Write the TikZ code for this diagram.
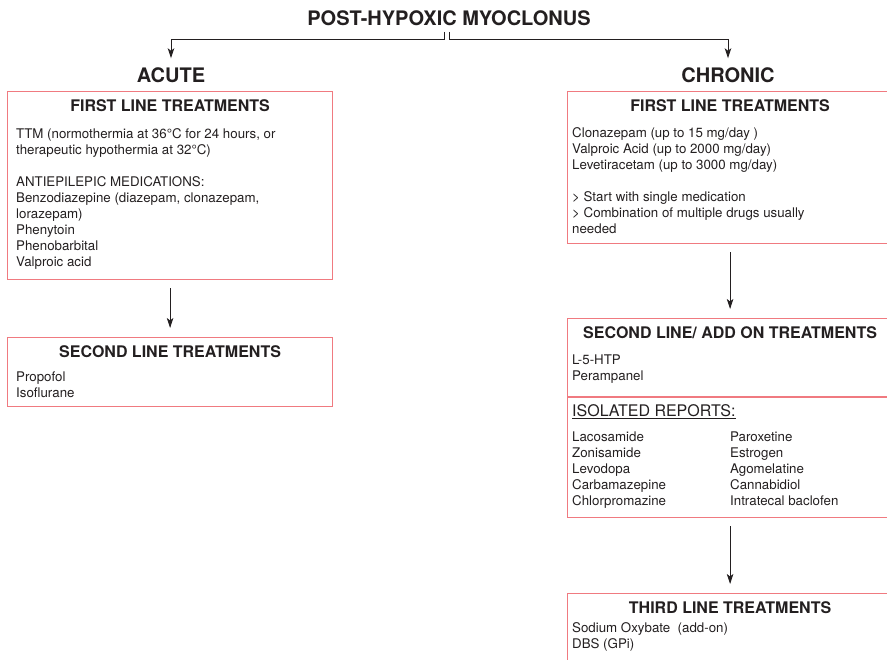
\documentclass[tikz,border=0pt]{standalone}
\usepackage{fontspec}
\setmainfont{TeX Gyre Heros}
\usetikzlibrary{arrows.meta}
\definecolor{boxred}{RGB}{240,122,128}
\definecolor{ink}{RGB}{35,31,32}

\begin{document}
\begin{tikzpicture}[x=1pt,y=1pt,
  every node/.style={inner sep=0pt,text=ink},
  tbox/.style={draw=boxred,line width=1.2pt,minimum width=325pt,anchor=north west},
  head/.style={font=\fontsize{16}{19}\selectfont\bfseries},
  group/.style={font=\fontsize{20}{24}\selectfont\bfseries},
  body/.style={font=\fontsize{13.3}{16}\selectfont,align=left,anchor=north west},
  arr/.style={draw=ink,line width=0.9pt,-{Stealth[length=10pt,width=6.5pt,inset=2.5pt]}},
  down/.style={arr,shorten <=8pt,shorten >=9pt}]
\clip (0,0) rectangle (887,-660);
\node[group] (title) at (449,-18.5) {POST-HYPOXIC MYOCLONUS};
\node[group] (acute) at (171,-75) {ACUTE};
\node[group] (chronic) at (728,-75) {CHRONIC};
\coordinate (stemL) at (444,-32);
\coordinate (stemR) at (449,-32);
\draw[arr] (stemL) -- ++(0,-7) -| ([yshift=9pt]acute.north);
\draw[arr] (stemR) -- ++(0,-7) -| ([yshift=9pt]chronic.north);

\node[tbox,minimum height=188pt] (acute1) at (7,-91) {};
\node[head] (acute1head) at ([yshift=-14.5pt]acute1.north) {FIRST LINE TREATMENTS};
\node[body] (acute1text) at ([xshift=9pt,yshift=-37pt]acute1.north west)
  {TTM (normothermia at 36°C for 24 hours, or\\therapeutic hypothermia at 32°C)\\[16pt]
   ANTIEPILEPIC MEDICATIONS:\\Benzodiazepine (diazepam, clonazepam,\\lorazepam)\\Phenytoin\\Phenobarbital\\Valproic acid};

\node[tbox,minimum height=69pt] (acute2) at (7,-337) {};
\node[head] (acute2head) at ([yshift=-14.5pt]acute2.north) {SECOND LINE TREATMENTS};
\node[body] (acute2text) at ([xshift=9pt,yshift=-35pt]acute2.north west) {Propofol\\Isoflurane};
\draw[down] (acute1.south) -- (acute2.north);

\node[tbox,minimum height=152pt] (chron1) at (567,-91) {};
\node[head] (chron1head) at ([yshift=-14.5pt]chron1.north) {FIRST LINE TREATMENTS};
\node[body] (chron1text) at ([xshift=5pt,yshift=-36pt]chron1.north west)
  {Clonazepam (up to 15 mg/day )\\Valproic Acid (up to 2000 mg/day)\\Levetiracetam (up to 3000 mg/day)\\[16pt]
   > Start with single medication\\> Combination of multiple drugs usually\\needed};

\node[tbox,minimum height=199pt] (chron2) at (567,-318) {};
\node[head] (chron2head) at ([yshift=-14.5pt]chron2.north) {SECOND LINE/ ADD ON TREATMENTS};
\node[body] (chron2text) at ([xshift=5pt,yshift=-37pt]chron2.north west) {L-5-HTP\\Perampanel};
\draw[draw=boxred,line width=1.2pt] ([yshift=-79pt]chron2.north west) -- ([yshift=-79pt]chron2.north east);
\node[body,font=\fontsize{16}{19}\selectfont] (isolated) at ([xshift=5pt,yshift=-86pt]chron2.north west) {\underline{ISOLATED REPORTS:}};
\node[body] (isolist1) at ([xshift=5pt,yshift=-114pt]chron2.north west)
  {Lacosamide\\Zonisamide\\Levodopa\\Carbamazepine\\Chlorpromazine};
\node[body] (isolist2) at ([xshift=163pt,yshift=-114pt]chron2.north west)
  {Paroxetine\\Estrogen\\Agomelatine\\Cannabidiol\\Intratecal baclofen};
\draw[down] (chron1.south) -- (chron2.north);

\node[tbox,minimum height=90pt] (chron3) at (567,-593) {};
\node[head] (chron3head) at ([yshift=-15pt]chron3.north) {THIRD LINE TREATMENTS};
\node[body] (chron3text) at ([xshift=5pt,yshift=-29pt]chron3.north west) {Sodium Oxybate\ \ (add-on)\\DBS (GPi)};
\draw[down] (chron2.south) -- (chron3.north);
\end{tikzpicture}
\end{document}
